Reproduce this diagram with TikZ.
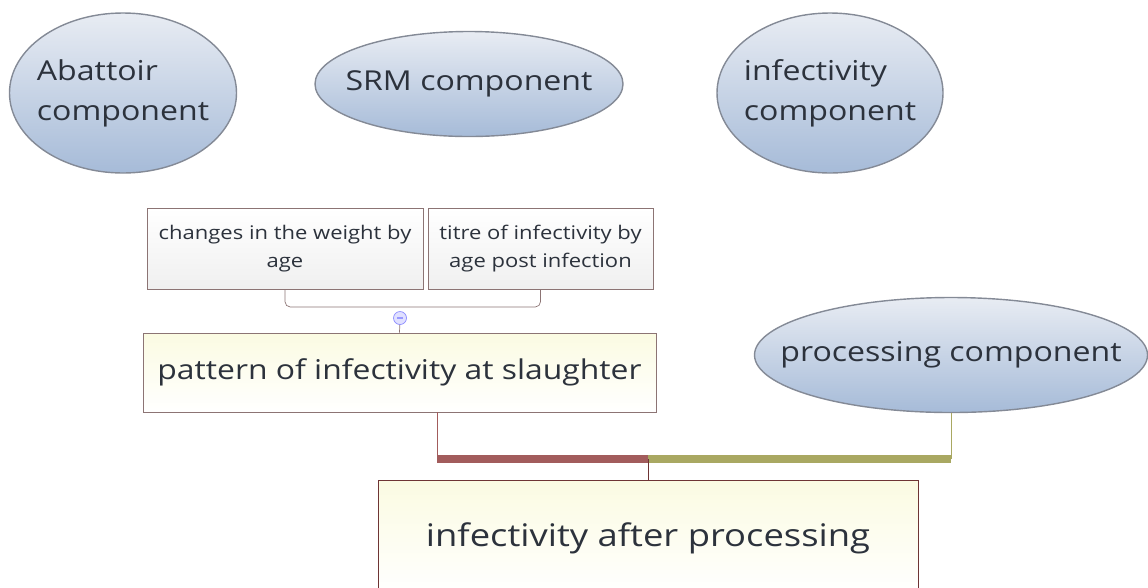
\documentclass[tikz,border=0pt]{standalone}
\usepackage{fontspec}
\setmainfont[FakeStretch=1.17]{Open Sans}
\usepackage{tikz}
\usetikzlibrary{shapes.geometric}
\definecolor{ellline}{HTML}{848A96}
\definecolor{elltop}{HTML}{E8ECF3}
\definecolor{ellbot}{HTML}{A6BBD8}
\definecolor{boxline}{HTML}{8C7474}
\definecolor{resline}{HTML}{6E3434}
\definecolor{creme}{HTML}{FBFBE2}
\definecolor{barred}{HTML}{A25C5C}
\definecolor{barolive}{HTML}{A9A862}
\definecolor{txt}{HTML}{2C323C}

\begin{document}
\begin{tikzpicture}[thick, text=txt,
		comp/.style={ellipse, draw=ellline, line width=0.8pt, shading=axis, top color=elltop, bottom color=ellbot, inner sep=-1cm, align=left, font=\fontsize{15.6pt}{22.8pt}\selectfont},
		leaf/.style={rectangle, draw=boxline, thin, top color=white, bottom color=black!6, inner sep=0pt, align=center, font=\fontsize{10.7pt}{16pt}\selectfont},
		result/.style={rectangle, draw=boxline, thin, top color=creme, bottom color=white, inner sep=0pt, align=center}]
		\useasboundingbox (0,0) rectangle (22.96,-11.74);
		% the four components
		\node[comp, minimum width=4.54cm, minimum height=3.2cm] (abattoir) at (2.46,-1.86) {Abattoir\\component};
		\node[comp, minimum width=6.16cm, minimum height=2.1cm] (srm) at (9.38,-1.68) {SRM component};
		\node[comp, minimum width=4.52cm, minimum height=3.2cm] (infect) at (16.6,-1.86) {infectivity\\component};
		\node[comp, minimum width=7.86cm, minimum height=2.3cm] (proc) at (19.02,-7.1) {processing component};
		% inputs of the slaughter pattern
		\node[leaf, minimum width=5.52cm, minimum height=1.62cm] (weight) at (5.70,-4.97) {changes in the weight by\\age};
		\node[leaf, minimum width=4.5cm, minimum height=1.62cm] (titre) at (10.81,-4.97) {titre of infectivity by\\age post infection};
		\node[result, minimum width=10.26cm, minimum height=1.58cm, font=\fontsize{15.5pt}{20pt}\selectfont] (pattern) at (7.99,-7.45) {pattern of infectivity at slaughter};
		\node[result, draw=resline, minimum width=10.8cm, minimum height=2.3cm, font=\fontsize{17.7pt}{22pt}\selectfont, anchor=north] (after) at (12.96,-9.6) {infectivity after processing};
		% bracket with collapse knob
		\node[circle, draw=blue!45, fill=blue!12, thin, minimum size=0.26cm, inner sep=0pt] (knob) at (8.0,-6.36) {};
		\draw[boxline, thin, rounded corners=3pt] (weight.south) |- (8.0,-6.14) -| (titre.south);
		\draw[blue!40, line width=0.6pt] ([xshift=-0.06cm]knob.center) -- ([xshift=0.06cm]knob.center);
		\draw[boxline, thin] (knob) -- (pattern.north);
		% joining bars
		\coordinate (pl) at ([xshift=0.75cm]pattern.south);
		\coordinate (jct) at (12.96,-9.18);
		\draw[barred, thin] (pl) -- (pl |- jct);
		\draw[barred, line width=4.5pt] (pl |- jct) -- (jct);
		\draw[barolive, line width=4.5pt] (jct) -- (proc.south |- jct);
		\draw[barolive, thin] (proc.south) -- (proc.south |- jct);
		\draw[resline, thin] (jct) -- (after.north);
	\end{tikzpicture}
\end{document}
